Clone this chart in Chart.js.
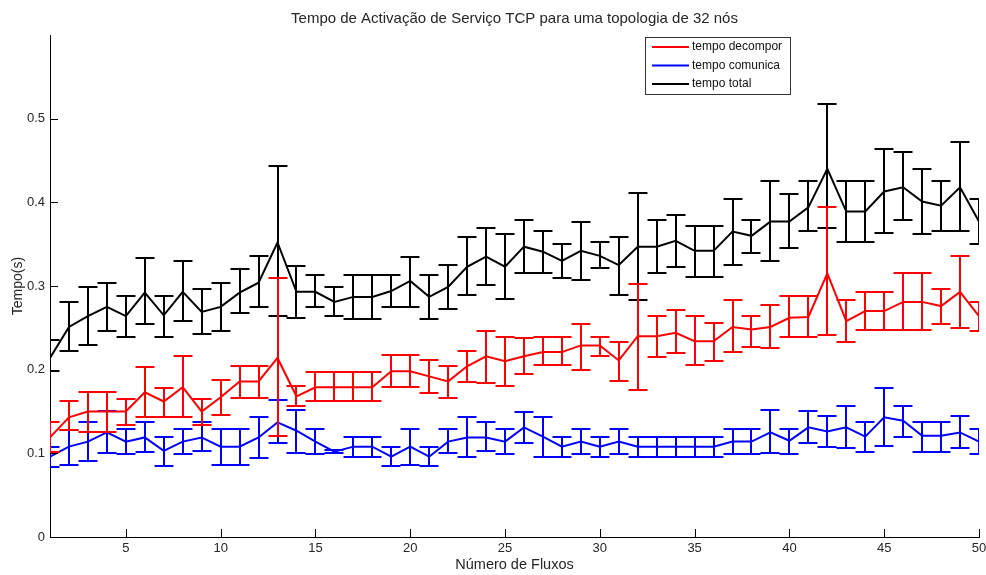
<!DOCTYPE html>
<html>
<head>
<meta charset="utf-8">
<script src="https://cdn.jsdelivr.net/npm/chart.js@4.4.1/dist/chart.umd.min.js"></script>
<style>
  html, body { margin: 0; padding: 0; background: #ffffff; }
  #wrap { width: 986px; height: 575px; position: relative; }
</style>
</head>
<body>
<div id="wrap"><canvas id="c" width="986" height="575"></canvas></div>
<script>
// Number of flows (x axis)
const fluxos = [1, 2, 3, 4, 5, 6, 7, 8, 9, 10, 11, 12, 13, 14, 15, 16, 17, 18, 19, 20,
  21, 22, 23, 24, 25, 26, 27, 28, 29, 30, 31, 32, 33, 34, 35, 36, 37, 38, 39, 40,
  41, 42, 43, 44, 45, 46, 47, 48, 49, 50];

// Decomposition time (s): mean, lower and upper error limits
const decomporMedia = [0.119, 0.143, 0.150, 0.150, 0.150, 0.173, 0.162, 0.179, 0.150, 0.167,
  0.186, 0.186, 0.214, 0.168, 0.179, 0.179, 0.179, 0.179, 0.198, 0.198,
  0.192, 0.186, 0.204, 0.216, 0.210, 0.216, 0.221, 0.221, 0.229, 0.229,
  0.211, 0.240, 0.240, 0.244, 0.234, 0.234, 0.251, 0.248, 0.251, 0.262,
  0.263, 0.315, 0.258, 0.270, 0.270, 0.281, 0.281, 0.276, 0.293, 0.264];
const decomporMin = [0.101, 0.128, 0.126, 0.126, 0.134, 0.144, 0.144, 0.144, 0.134, 0.146,
  0.166, 0.166, 0.121, 0.156, 0.162, 0.162, 0.162, 0.162, 0.179, 0.179,
  0.172, 0.166, 0.185, 0.184, 0.180, 0.195, 0.205, 0.205, 0.200, 0.216,
  0.186, 0.176, 0.215, 0.220, 0.205, 0.210, 0.221, 0.227, 0.226, 0.239,
  0.239, 0.241, 0.233, 0.247, 0.247, 0.247, 0.247, 0.255, 0.250, 0.246];
const decomporMax = [0.138, 0.162, 0.173, 0.173, 0.165, 0.203, 0.178, 0.216, 0.165, 0.188,
  0.204, 0.204, 0.309, 0.180, 0.197, 0.197, 0.197, 0.197, 0.217, 0.217,
  0.211, 0.204, 0.222, 0.246, 0.239, 0.238, 0.239, 0.239, 0.255, 0.239,
  0.233, 0.302, 0.264, 0.271, 0.264, 0.256, 0.283, 0.264, 0.277, 0.288,
  0.288, 0.394, 0.283, 0.293, 0.293, 0.316, 0.316, 0.296, 0.336, 0.281];

// Communication time (s)
const comunicaMedia = [0.096, 0.108, 0.114, 0.125, 0.114, 0.119, 0.103, 0.114, 0.119, 0.108,
  0.108, 0.119, 0.137, 0.127, 0.114, 0.102, 0.108, 0.108, 0.096, 0.108,
  0.096, 0.114, 0.119, 0.119, 0.114, 0.131, 0.120, 0.108, 0.114, 0.108,
  0.114, 0.108, 0.108, 0.108, 0.108, 0.108, 0.114, 0.114, 0.125, 0.115,
  0.131, 0.126, 0.131, 0.120, 0.143, 0.139, 0.121, 0.121, 0.125, 0.114];
const comunicaMin = [0.084, 0.086, 0.091, 0.100, 0.099, 0.102, 0.085, 0.099, 0.103, 0.086,
  0.086, 0.095, 0.112, 0.100, 0.099, 0.100, 0.096, 0.096, 0.085, 0.086,
  0.085, 0.100, 0.096, 0.103, 0.099, 0.112, 0.096, 0.096, 0.099, 0.096,
  0.099, 0.096, 0.096, 0.096, 0.096, 0.096, 0.099, 0.099, 0.100, 0.099,
  0.112, 0.107, 0.106, 0.102, 0.109, 0.119, 0.102, 0.102, 0.106, 0.099];
const comunicaMax = [0.108, 0.128, 0.137, 0.151, 0.129, 0.137, 0.119, 0.129, 0.137, 0.129,
  0.129, 0.144, 0.164, 0.152, 0.129, 0.104, 0.119, 0.119, 0.108, 0.129,
  0.108, 0.129, 0.144, 0.137, 0.129, 0.150, 0.144, 0.119, 0.129, 0.119,
  0.129, 0.119, 0.119, 0.119, 0.119, 0.119, 0.129, 0.129, 0.152, 0.129,
  0.151, 0.145, 0.157, 0.138, 0.178, 0.156, 0.137, 0.137, 0.145, 0.129];

// Total time (s)
const totalMedia = [0.214, 0.251, 0.264, 0.275, 0.264, 0.292, 0.265, 0.293, 0.269, 0.275,
  0.292, 0.304, 0.352, 0.293, 0.293, 0.281, 0.287, 0.287, 0.294, 0.306,
  0.287, 0.299, 0.323, 0.335, 0.323, 0.347, 0.341, 0.330, 0.342, 0.336,
  0.325, 0.347, 0.347, 0.354, 0.342, 0.342, 0.365, 0.360, 0.377, 0.377,
  0.394, 0.440, 0.389, 0.389, 0.413, 0.418, 0.401, 0.396, 0.418, 0.377];
const totalMin = [0.198, 0.222, 0.229, 0.246, 0.239, 0.254, 0.239, 0.258, 0.243, 0.246,
  0.268, 0.275, 0.264, 0.262, 0.275, 0.264, 0.261, 0.261, 0.275, 0.275,
  0.261, 0.273, 0.289, 0.301, 0.285, 0.315, 0.316, 0.309, 0.307, 0.321,
  0.289, 0.283, 0.315, 0.323, 0.311, 0.311, 0.325, 0.340, 0.330, 0.345,
  0.366, 0.369, 0.352, 0.352, 0.363, 0.379, 0.362, 0.366, 0.366, 0.350];
const totalMax = [0.236, 0.281, 0.299, 0.304, 0.288, 0.333, 0.288, 0.330, 0.297, 0.304,
  0.320, 0.336, 0.443, 0.324, 0.313, 0.299, 0.313, 0.313, 0.313, 0.335,
  0.313, 0.325, 0.358, 0.369, 0.362, 0.379, 0.366, 0.350, 0.377, 0.352,
  0.358, 0.411, 0.379, 0.385, 0.372, 0.372, 0.404, 0.379, 0.425, 0.410,
  0.425, 0.517, 0.426, 0.426, 0.464, 0.460, 0.440, 0.425, 0.472, 0.404];

// Axis ticks
const xTicks = [5, 10, 15, 20, 25, 30, 35, 40, 45, 50];
const yTicks = [0, 0.1, 0.2, 0.3, 0.4, 0.5];
const yTickLabels = ['0', '0.1', '0.2', '0.3', '0.4', '0.5'];

const TITULO = 'Tempo de Activação de Serviço TCP para uma topologia de 32 nós';
const FONT = 'Liberation Sans, Arial, Helvetica, sans-serif';
const TEXT = '#262626';

function serie(label, color, media, lo, hi) {
  return {
    label: label,
    data: fluxos.map((x, i) => ({ x: x, y: media[i] })),
    errLow: lo,
    errHigh: hi,
    borderColor: color,
    backgroundColor: color,
    borderWidth: 2,
    pointRadius: 0,
    tension: 0,
    fill: false
  };
}

// Vertical error bars with caps, drawn right after each line
const errorBars = {
  id: 'errorBars',
  afterDatasetDraw(chart, args) {
    const ds = chart.data.datasets[args.index];
    if (!ds.errLow) return;
    const xs = chart.scales.x, ys = chart.scales.y, area = chart.chartArea;
    const half = (xs.getPixelForValue(2) - xs.getPixelForValue(1)) / 2;
    const ctx = chart.ctx;
    ctx.save();
    ctx.beginPath();
    ctx.rect(area.left, area.top - 2, area.right - area.left, area.bottom - area.top + 4);
    ctx.clip();
    ctx.strokeStyle = ds.borderColor;
    ctx.lineWidth = 2;
    ctx.beginPath();
    ds.data.forEach((p, i) => {
      const x = Math.round(xs.getPixelForValue(p.x));
      const yl = Math.round(ys.getPixelForValue(ds.errLow[i]));
      const yh = Math.round(ys.getPixelForValue(ds.errHigh[i]));
      ctx.moveTo(x, yl); ctx.lineTo(x, yh);
      ctx.moveTo(x - half, yl); ctx.lineTo(x + half, yl);
      ctx.moveTo(x - half, yh); ctx.lineTo(x + half, yh);
    });
    ctx.stroke();
    ctx.restore();
  }
};

// Title over the axes, inward tick marks and the boxed legend
const overlay = {
  id: 'overlay',
  afterDraw(chart) {
    const ctx = chart.ctx;
    const xs = chart.scales.x, ys = chart.scales.y, area = chart.chartArea;
    ctx.save();

    ctx.fillStyle = TEXT;
    ctx.font = '15px ' + FONT;
    ctx.textAlign = 'center';
    ctx.textBaseline = 'middle';
    ctx.fillText(TITULO, (area.left + area.right) / 2, 19);

    ctx.strokeStyle = '#000';
    ctx.lineWidth = 1;
    ctx.beginPath();
    xTicks.forEach(v => {
      const x = Math.round(xs.getPixelForValue(v)) + 0.5;
      ctx.moveTo(x, area.bottom); ctx.lineTo(x, area.bottom - 8);
    });
    yTicks.forEach(v => {
      const y = Math.round(ys.getPixelForValue(v)) + 0.5;
      ctx.moveTo(area.left, y); ctx.lineTo(area.left + 8, y);
    });
    ctx.stroke();

    // legend
    const bx = 645.5, by = 37.5, bw = 145, bh = 57;
    ctx.fillStyle = '#fff';
    ctx.fillRect(bx, by, bw, bh);
    ctx.strokeStyle = '#333';
    ctx.strokeRect(bx, by, bw, bh);
    ctx.font = '12px ' + FONT;
    ctx.textBaseline = 'middle';
    ctx.textAlign = 'left';
    chart.data.datasets.forEach((ds, i) => {
      const y = 47 + i * 18.5;
      ctx.strokeStyle = ds.borderColor;
      ctx.lineWidth = 2;
      ctx.beginPath();
      ctx.moveTo(652, y); ctx.lineTo(689, y);
      ctx.stroke();
      ctx.fillStyle = '#111';
      ctx.fillText(ds.label, 692, y);
    });
    ctx.restore();
  }
};

new Chart(document.getElementById('c'), {
  type: 'line',
  data: {
    datasets: [
      serie('tempo decompor', '#ff0000', decomporMedia, decomporMin, decomporMax),
      serie('tempo comunica', '#0000ff', comunicaMedia, comunicaMin, comunicaMax),
      serie('tempo total', '#000000', totalMedia, totalMin, totalMax)
    ]
  },
  options: {
    responsive: false,
    animation: false,
    devicePixelRatio: 1,
    layout: { padding: { left: 0, right: 0, top: 35, bottom: 0 } },
    plugins: {
      legend: { display: false },
      tooltip: { enabled: false },
      title: { display: false }
    },
    scales: {
      x: {
        type: 'linear',
        min: 1,
        max: 50,
        afterBuildTicks: s => { s.ticks = xTicks.map(v => ({ value: v })); },
        afterFit: s => { s.height = 38; s.paddingLeft = 0; s.paddingRight = 7; },
        grid: { display: false, drawTicks: false },
        border: { display: true, color: '#000', width: 1 },
        ticks: { font: { family: FONT, size: 13 }, color: TEXT, padding: 4, maxRotation: 0, autoSkip: false },
        title: { display: true, text: 'Número de Fluxos', font: { family: FONT, size: 14.5 }, color: TEXT, padding: { top: 0, bottom: 1 } }
      },
      y: {
        min: 0,
        max: 0.6,
        afterBuildTicks: s => { s.ticks = yTicks.map(v => ({ value: v })); },
        afterFit: s => { s.width = 50; },
        grid: { display: false, drawTicks: false },
        border: { display: true, color: '#000', width: 1 },
        ticks: {
          font: { family: FONT, size: 13 }, color: TEXT, padding: 5,
          callback: (v, i) => yTickLabels[i]
        },
        title: { display: true, text: 'Tempo(s)', font: { family: FONT, size: 14 }, color: TEXT, padding: { top: 10, bottom: 0 } }
      }
    }
  },
  plugins: [errorBars, overlay]
});
</script>
</body>
</html>
